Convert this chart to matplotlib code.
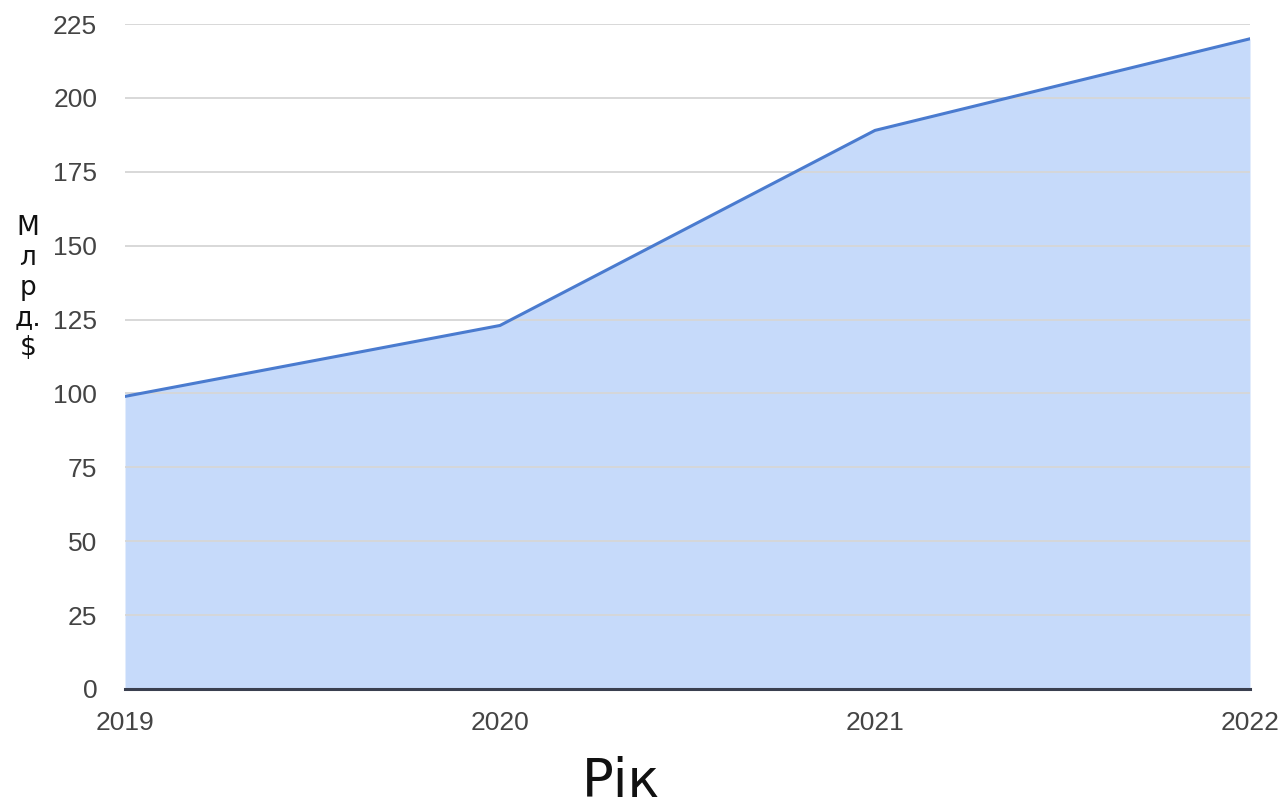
import matplotlib.pyplot as plt

years = [2019, 2020, 2021, 2022]
values = [99, 123, 189, 220]
y_ticks = [0, 25, 50, 75, 100, 125, 150, 175, 200, 225]

line_color = '#4a7bcf'
fill_color = '#c6dafa'

fig = plt.figure(figsize=(12.84, 8.09), dpi=100)
ax = fig.add_axes([125 / 1284, 1 - 689 / 809, 1125 / 1284, 665 / 809])

ax.fill_between(years, values, 0, color=fill_color, linewidth=0, zorder=1)
ax.plot(years, values, color=line_color, linewidth=2.2, zorder=3)

ax.set_xlim(years[0], years[-1])
ax.set_ylim(0, 225)
ax.set_yticks(y_ticks)
ax.set_xticks(years)
ax.set_xticklabels([str(y) for y in years])

ax.grid(axis='y', color='#d6d6d6', linewidth=1.3, zorder=2)
ax.grid(axis='x', visible=False)
ax.set_axisbelow(False)
for side in ['top', 'right', 'left']:
    ax.spines[side].set_visible(False)
ax.spines['bottom'].set_color('#3a3f4f')
ax.spines['bottom'].set_linewidth(2.2)
ax.spines['bottom'].set_zorder(4)

ax.tick_params(axis='both', length=0, labelsize=19, labelcolor='#444444',
               labelfontfamily='Liberation Sans')
ax.tick_params(axis='y', pad=20)
ax.tick_params(axis='x', pad=16)

# Vertical stacked y-axis label
fig.text(28 / 1284, 1 - 288 / 809, 'М\nл\nр\nд.\n$', ha='center', va='center',
         fontsize=19, linespacing=1.2, color='#111111', family='DejaVu Sans')

fig.text(621 / 1284, 1 - 797 / 809, 'Рік', ha='center', va='baseline',
         fontsize=38, color='#111111', family='DejaVu Sans')

fig.savefig('out.png', dpi=100, facecolor='white')
